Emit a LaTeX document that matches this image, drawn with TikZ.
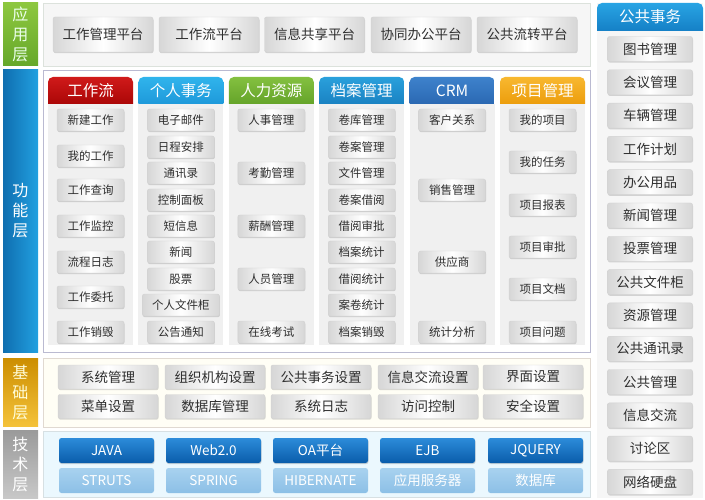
\documentclass[tikz,border=0pt]{standalone}
\usepackage{fontspec}
\setmainfont{Noto Sans CJK SC}
\usetikzlibrary{shadows}
\definecolor{txt}{HTML}{2E2E2E}
\definecolor{grnA}{HTML}{8DC73F}\definecolor{grnB}{HTML}{66A82A}
\definecolor{bluA}{HTML}{0F6EB0}\definecolor{bluB}{HTML}{22A0E0}
\definecolor{golA}{HTML}{CC8E00}\definecolor{golB}{HTML}{F4C23A}
\definecolor{gryA}{HTML}{9A9A9A}\definecolor{gryB}{HTML}{C8C8C8}
\definecolor{redA}{HTML}{D01A1A}\definecolor{redB}{HTML}{9E0000}
\definecolor{cyaA}{HTML}{30B4EC}\definecolor{cyaB}{HTML}{1890D4}
\definecolor{hrgA}{HTML}{84C040}\definecolor{hrgB}{HTML}{5A9A22}
\definecolor{arcA}{HTML}{2AA0DC}\definecolor{arcB}{HTML}{1478BA}
\definecolor{crmA}{HTML}{3E82CC}\definecolor{crmB}{HTML}{2460AA}
\definecolor{prjA}{HTML}{F8B830}\definecolor{prjB}{HTML}{E89400}
\definecolor{pubA}{HTML}{28A4E4}\definecolor{pubB}{HTML}{0F74BC}
\definecolor{tecA}{HTML}{2C8CDA}\definecolor{tecB}{HTML}{0A5CAA}
\definecolor{tlA}{HTML}{A8D2EF}\definecolor{tlB}{HTML}{8CBFE6}
\definecolor{colbg}{HTML}{F0F0F0}
\tikzset{
  lab/.style={minimum width=35pt, inner sep=0pt, align=center,
    font=\fontsize{16}{20}\selectfont},
  panel/.style={inner sep=0pt},
  btn/.style={draw=gray!35, rounded corners=2pt, left color=gray!32, right color=gray!32,
    middle color=white, drop shadow={shadow xshift=0.5pt, shadow yshift=-1.2pt, opacity=0.3},
    text=txt, font=\fontsize{11.5}{12}\selectfont, inner sep=0pt,
    minimum height=22pt, minimum width=67pt},
  abtn/.style={btn, minimum width=100pt, minimum height=35pt, font=\fontsize{13.5}{14}\selectfont},
  rbtn/.style={btn, minimum width=85pt, minimum height=25pt, font=\fontsize{13.5}{14}\selectfont},
  bbtn/.style={btn, minimum width=100pt, minimum height=24pt, font=\fontsize{13.5}{14}\selectfont},
  tbtn/.style={draw=none, rounded corners=2.5pt, inner sep=0pt, minimum width=95pt,
    minimum height=25pt, text=white, font=\fontsize{13.5}{14}\selectfont},
  tdark/.style={tbtn, top color=tecA, bottom color=tecB,
    drop shadow={shadow xshift=0.5pt, shadow yshift=-1.2pt, opacity=0.3}},
  tlight/.style={tbtn, top color=tlA, bottom color=tlB},
  headtxt/.style={text=white, font=\fontsize{15.5}{16}\selectfont, inner sep=0pt}
}
\newcommand\colhead[5]{%
  \begin{scope}
    \clip (#2,77) rectangle ++(85,27);
    \shade[top color=#3, bottom color=#4, rounded corners=5pt] (#2,77) rectangle ++(85,36);
  \end{scope}
  \fill[colbg] (#2,104) rectangle ++(85,241);
  \node[headtxt] (#1) at (#2+42.5,90.5) {#5};}
\begin{document}
\begin{tikzpicture}[x=1pt,y=-1pt]
\useasboundingbox (0,0) rectangle (705,500);
\fill[white] (0,0) rectangle (705,500);

% layer labels
\node[lab, minimum height=63pt, top color=grnA, bottom color=grnB, text=green!8!white] (Lapp) at (20.5,34.5) {应\\用\\层};
\node[lab, minimum height=282pt, left color=bluA, right color=bluB, text=white] (Lfun) at (20.5,211) {功\\能\\层};
\node[lab, minimum height=68pt, top color=golA, bottom color=golB, text=yellow!15!white] (Lbas) at (20.5,392) {基\\础\\层};
\node[lab, minimum height=68pt, top color=gryA, bottom color=gryB, text=white] (Ltec) at (20.5,464) {技\\术\\层};

% panels
\node[panel, fill=gray!7, draw=green!10!gray!25, minimum width=547pt, minimum height=63pt] (Papp) at (316.5,34.5) {};
\node[panel, fill=white, draw=blue!20!gray!45, minimum width=547pt, minimum height=282pt] (Pfun) at (316.5,211) {};
\node[panel, fill=yellow!4!white, draw=orange!20!gray!30, minimum width=547pt, minimum height=69pt] (Pbas) at (316.5,392.5) {};
\node[panel, fill=cyan!8!white, draw=cyan!20!gray!30, minimum width=547pt, minimum height=66pt] (Ptec) at (316.5,464) {};
\node[panel, fill=gray!7, minimum width=106pt, minimum height=495pt] (Ppub) at (650,250.5) {};

% application layer
\foreach \x/\t [count=\i] in {103/工作管理平台,209/工作流平台,314.5/信息共享平台,421/协同办公平台,527/公共流转平台}
  \node[abtn] (a\i) at (\x,34.5) {\t};

% function layer column headers
\colhead{h1}{48}{redA}{redB}{工作流}
\colhead{h2}{138.4}{cyaA}{cyaB}{个人事务}
\colhead{h3}{228.8}{hrgA}{hrgB}{人力资源}
\colhead{h4}{319.2}{arcA}{arcB}{档案管理}
\colhead{h5}{409.6}{crmA}{crmB}{CRM}
\colhead{h6}{500}{prjA}{prjB}{项目管理}

\foreach \y/\t [count=\i] in {120/新建工作,156/我的工作,190/工作查询,226/工作监控,262/流程日志,297/工作委托,332/工作销毁}
  \node[btn] (c1-\i) at (90.5,\y) {\t};
\foreach \y/\t [count=\i] in {120/电子邮件,147/日程安排,173/通讯录,200/控制面板,226/短信息,252/新闻,279/股票,332/公告通知}
  \node[btn] (c2-\i) at (180.9,\y) {\t};
\node[btn, minimum width=77pt] (c2-9) at (180.9,305) {个人文件柜};
\foreach \y/\t [count=\i] in {120/人事管理,173/考勤管理,226/薪酬管理,279/人员管理,332/在线考试}
  \node[btn] (c3-\i) at (271.3,\y) {\t};
\foreach \y/\t [count=\i] in {120/卷库管理,147/卷案管理,173/文件管理,200/卷案借阅,226/借阅审批,252/档案统计,279/借阅统计,305/案卷统计,332/档案销毁}
  \node[btn] (c4-\i) at (361.7,\y) {\t};
\foreach \y/\t [count=\i] in {120/客户关系,190/销售管理,262/供应商,332/统计分析}
  \node[btn] (c5-\i) at (452.1,\y) {\t};
\foreach \y/\t [count=\i] in {120/我的项目,162/我的任务,205/项目报表,247/项目审批,289/项目文档,332/项目问题}
  \node[btn] (c6-\i) at (542.5,\y) {\t};

% base layer
\foreach \x/\t [count=\i] in {108/系统管理,215/组织机构设置,321/公共事务设置,428/信息交流设置,533/界面设置}
  \node[bbtn] (b1-\i) at (\x,377) {\t};
\foreach \x/\t [count=\i] in {108/菜单设置,215/数据库管理,321/系统日志,428/访问控制,533/安全设置}
  \node[bbtn] (b2-\i) at (\x,406.5) {\t};

% tech layer
\foreach \x/\t [count=\i] in {106.5/JAVA,213.5/Web2.0,320.5/OA平台,427.5/EJB,535.5/JQUERY}
  \node[tdark] (t1-\i) at (\x,450.5) {\t};
\foreach \x/\t [count=\i] in {106.5/STRUTS,213.5/SPRING,320.5/HIBERNATE,427.5/应用服务器,535.5/数据库}
  \node[tlight] (t2-\i) at (\x,480.5) {\t};

% public affairs column
\begin{scope}
  \clip (597,3) rectangle (703,31);
  \shade[top color=pubA, bottom color=pubB, rounded corners=5pt] (597,3) rectangle (703,40);
\end{scope}
\node[headtxt] (hp) at (650,17) {公共事务};
\foreach \t [count=\i from 0] in {图书管理,会议管理,车辆管理,工作计划,办公用品,新闻管理,投票管理,公共文件柜,资源管理,公共通讯录,公共管理,信息交流,讨论区,网络硬盘}
  \node[rbtn] (r\i) at (650,{49+33.3*\i}) {\t};
\end{tikzpicture}
\end{document}
